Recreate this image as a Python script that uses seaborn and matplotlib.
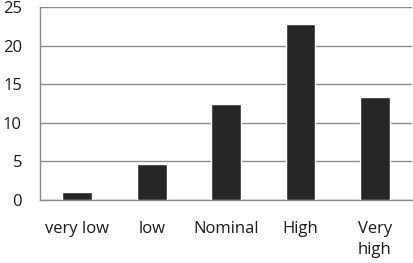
import numpy as np
import pandas as pd
import matplotlib
matplotlib.use('Agg')
import matplotlib.pyplot as plt
import seaborn as sns

categories = ["very low", "low", "Nominal", "High", "Very\nhigh"]
values = [1.0, 4.7, 12.4, 22.8, 13.3]
y_ticks = [0, 5, 10, 15, 20, 25]

df = pd.DataFrame({"cat": categories, "val": values})

sns.set_style("white")
plt.rcParams['font.family'] = ['Open Sans', 'DejaVu Sans']

fig = plt.figure(figsize=(4.13, 2.63), dpi=100)
ax = fig.add_axes([0.097, 0.2395, 0.901, 0.734])

sns.barplot(data=df, x="cat", y="val", color="#262626", saturation=1,
            width=0.4, ax=ax, zorder=3)

ax.set_ylim(0, 25)
ax.set_xlim(-0.5, len(categories) - 0.5)
ax.set_yticks(y_ticks)
ax.yaxis.grid(True, color="#8c8c8c", linewidth=1.0, zorder=0)
ax.set_axisbelow(True)
ax.set_xlabel("")
ax.set_ylabel("")

for side in ["top", "right"]:
    ax.spines[side].set_visible(False)
for side in ["left", "bottom"]:
    ax.spines[side].set_color("#8c8c8c")
    ax.spines[side].set_linewidth(1.0)

# ticks on category boundaries, labels centred
ax.set_xticks(np.arange(len(categories)))
ax.set_xticklabels(categories, linespacing=1.45)
ax.set_xticks(np.arange(-0.5, len(categories)), minor=True)
ax.tick_params(axis="x", which="major", length=0, pad=15, labelsize=12, colors="#1a1a1a")
ax.tick_params(axis="x", which="minor", length=5, width=1, color="#8c8c8c")
ax.tick_params(axis="y", length=0, pad=13, labelsize=12, colors="#1a1a1a")

fig.savefig("out.png", dpi=100)
